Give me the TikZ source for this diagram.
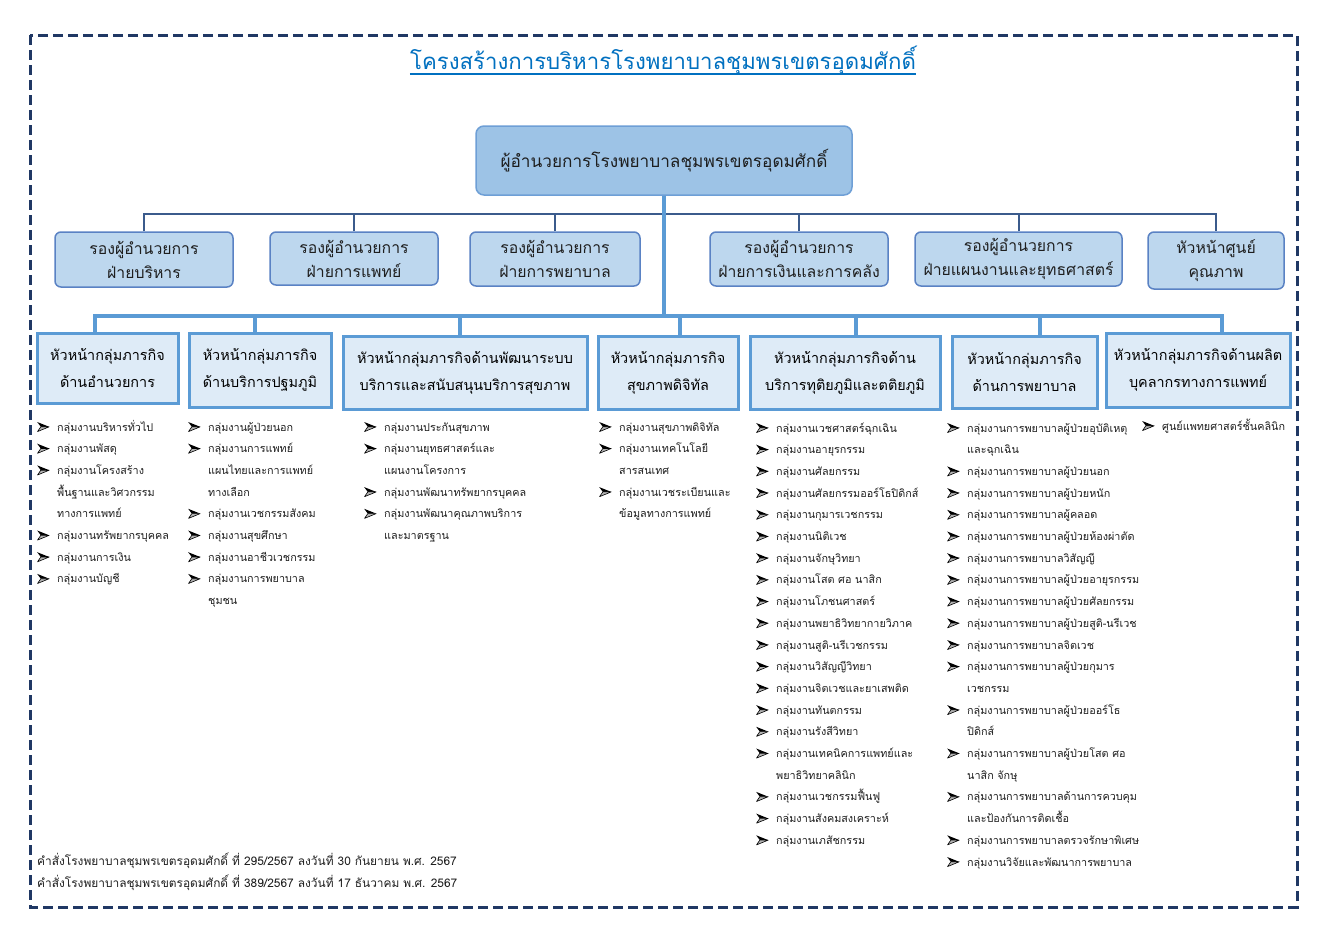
\documentclass[tikz,border=0pt]{standalone}
\usepackage{fontspec}
\setmainfont[Script=Thai]{Loma}
\usetikzlibrary{calc}
\definecolor{framec}{HTML}{203864}
\definecolor{titlec}{HTML}{0070C0}
\definecolor{topfill}{HTML}{9DC3E6}
\definecolor{topdraw}{HTML}{6E9FD6}
\definecolor{depfill}{HTML}{BDD7EE}
\definecolor{depdraw}{HTML}{5A82C4}
\definecolor{misfill}{HTML}{DEEBF7}
\definecolor{misdraw}{HTML}{5B9BD5}
\definecolor{depline}{HTML}{3B5B8C}
\definecolor{busc}{HTML}{5B9BD5}
\definecolor{txt}{HTML}{1E1E1E}
\newcommand\bul{\makebox[20pt][l]{\tikz[x=1pt,y=1pt,baseline=0pt]{\fill[black] (0,9) -- (12,4.2) -- (3.6,4.2) -- cycle; \filldraw[fill=gray!60, draw=black, line width=0.6pt, line join=round] (3.6,4.2) -- (12,4.2) -- (0.3,-0.6) -- cycle;}}}
\newcommand\cont{\hspace*{20pt}}
\tikzset{
  topbox/.style={draw=topdraw, fill=topfill, line width=1.5pt, rounded corners=8pt, inner sep=0pt, align=center, font=\fontsize{17.2}{24}\selectfont, text=txt},
  depbox/.style={draw=depdraw, fill=depfill, line width=1.5pt, rounded corners=6pt, inner sep=0pt, align=center, font=\fontsize{15.8}{24}\selectfont, text=txt},
  misbox/.style={draw=misdraw, fill=misfill, line width=3pt, inner sep=0pt, align=center, font=\fontsize{14.4}{27}\selectfont, text=black},
  deplink/.style={draw=depline, line width=2pt},
  buslink/.style={draw=busc, line width=4pt},
  listnode/.style={anchor=base west, inner sep=0pt, font=\fontsize{10.8}{21.7}\selectfont, text=txt},
  frame/.style={draw=framec, line width=3pt, dash pattern=on 10pt off 5pt}
}
\begin{document}
\begin{tikzpicture}[x=1pt,y=-1pt]
\useasboundingbox (0,0) rectangle (1325,930);
\fill[white] (0,0) rectangle (1325,930);
\draw[frame] (30,35) rectangle (1297,907);

\node[anchor=base, inner sep=0pt, text=titlec, font=\fontsize{22.2}{24}\selectfont] (title) at (663,69) {โครงสร้างการบริหารโรงพยาบาลชุมพรเขตรอุดมศักดิ์};
\draw[titlec, line width=1.5pt] ($(title.base west)+(0,5)$) -- ($(title.base east)+(0,5)$);

\node[topbox, minimum width=376pt, minimum height=69pt] (T) at (664,160.5) {ผู้อำนวยการโรงพยาบาลชุมพรเขตรอุดมศักดิ์};

\node[depbox, minimum width=178pt, minimum height=55pt] (D1) at (144,259.5) {รองผู้อำนวยการ\\ฝ่ายบริหาร};
\node[depbox, minimum width=168pt, minimum height=53pt] (D2) at (354,258.5) {รองผู้อำนวยการ\\ฝ่ายการแพทย์};
\node[depbox, minimum width=170pt, minimum height=54pt] (D3) at (555,259) {รองผู้อำนวยการ\\ฝ่ายการพยาบาล};
\node[depbox, minimum width=178pt, minimum height=54pt] (D4) at (799,259) {รองผู้อำนวยการ\\ฝ่ายการเงินและการคลัง};
\node[depbox, minimum width=207pt, minimum height=54pt] (D5) at (1018.5,259) {รองผู้อำนวยการ\\ฝ่ายแผนงานและยุทธศาสตร์};
\node[depbox, minimum width=136pt, minimum height=57pt] (D6) at (1216,260.5) {หัวหน้าศูนย์\\คุณภาพ};

\coordinate (dbus) at (0,214);
\draw[deplink] (D1.north) -- (D1.north |- dbus) -- (D6.north |- dbus) -- (D6.north);
\foreach \d in {D2,D3,D4,D5}{\draw[deplink] (\d.north) -- (\d.north |- dbus);}

\node[misbox, minimum width=141pt, minimum height=70pt] (M1) at (107.5,368) {หัวหน้ากลุ่มภารกิจ\\ด้านอำนวยการ};
\node[misbox, minimum width=142pt, minimum height=74pt] (M2) at (260,370) {หัวหน้ากลุ่มภารกิจ\\ด้านบริการปฐมภูมิ};
\node[misbox, minimum width=244pt, minimum height=73pt] (M3) at (465,372.5) {หัวหน้ากลุ่มภารกิจด้านพัฒนาระบบ\\บริการและสนับสนุนบริการสุขภาพ};
\node[misbox, minimum width=140pt, minimum height=73pt] (M4) at (668,372.5) {หัวหน้ากลุ่มภารกิจ\\สุขภาพดิจิทัล};
\node[misbox, minimum width=190pt, minimum height=73pt] (M5) at (845,372.5) {หัวหน้ากลุ่มภารกิจด้าน\\บริการทุติยภูมิและตติยภูมิ};
\node[misbox, minimum width=145pt, minimum height=72pt] (M6) at (1024.5,372) {หัวหน้ากลุ่มภารกิจ\\ด้านการพยาบาล};
\node[misbox, minimum width=184pt, minimum height=74pt] (M7) at (1198,370) {หัวหน้ากลุ่มภารกิจด้านผลิต\\บุคลากรทางการแพทย์};

\coordinate (b1) at (95,316);
\coordinate (b2) at (255,316);
\coordinate (b3) at (460,316);
\coordinate (b4) at (680,316);
\coordinate (b5) at (856,316);
\coordinate (b6) at (1040,316);
\coordinate (b7) at (1222,316);
\draw[buslink] (T.south) -- (T.south |- b1);
\draw[buslink] ([xshift=-2pt]b1) -- ([xshift=2pt]b7);
\draw[buslink] (b1) -- (b1 |- M1.north);
\draw[buslink] (b2) -- (b2 |- M2.north);
\draw[buslink] (b3) -- (b3 |- M3.north);
\draw[buslink] (b4) -- (b4 |- M4.north);
\draw[buslink] (b5) -- (b5 |- M5.north);
\draw[buslink] (b6) -- (b6 |- M6.north);
\draw[buslink] (b7) -- (b7 |- M7.north);

\node[listnode] (L1) at (37,431) {\begin{tabular}[t]{@{}l@{}}
\bul กลุ่มงานบริหารทั่วไป\\
\bul กลุ่มงานพัสดุ\\
\bul กลุ่มงานโครงสร้าง\\
\cont พื้นฐานและวิศวกรรม\\
\cont ทางการแพทย์\\
\bul กลุ่มงานทรัพยากรบุคคล\\
\bul กลุ่มงานการเงิน\\
\bul กลุ่มงานบัญชี
\end{tabular}};

\node[listnode] (L2) at (188,431) {\begin{tabular}[t]{@{}l@{}}
\bul กลุ่มงานผู้ป่วยนอก\\
\bul กลุ่มงานการแพทย์\\
\cont แผนไทยและการแพทย์\\
\cont ทางเลือก\\
\bul กลุ่มงานเวชกรรมสังคม\\
\bul กลุ่มงานสุขศึกษา\\
\bul กลุ่มงานอาชีวเวชกรรม\\
\bul กลุ่มงานการพยาบาล\\
\cont ชุมชน
\end{tabular}};

\node[listnode] (L3) at (364,431) {\begin{tabular}[t]{@{}l@{}}
\bul กลุ่มงานประกันสุขภาพ\\
\bul กลุ่มงานยุทธศาสตร์และ\\
\cont แผนงานโครงการ\\
\bul กลุ่มงานพัฒนาทรัพยากรบุคคล\\
\bul กลุ่มงานพัฒนาคุณภาพบริการ\\
\cont และมาตรฐาน
\end{tabular}};

\node[listnode] (L4) at (599,431) {\begin{tabular}[t]{@{}l@{}}
\bul กลุ่มงานสุขภาพดิจิทัล\\
\bul กลุ่มงานเทคโนโลยี\\
\cont สารสนเทศ\\
\bul กลุ่มงานเวชระเบียนและ\\
\cont ข้อมูลทางการแพทย์
\end{tabular}};

\node[listnode] (L5) at (756,432) {\begin{tabular}[t]{@{}l@{}}
\bul กลุ่มงานเวชศาสตร์ฉุกเฉิน\\
\bul กลุ่มงานอายุรกรรม\\
\bul กลุ่มงานศัลยกรรม\\
\bul กลุ่มงานศัลยกรรมออร์โธปิดิกส์\\
\bul กลุ่มงานกุมารเวชกรรม\\
\bul กลุ่มงานนิติเวช\\
\bul กลุ่มงานจักษุวิทยา\\
\bul กลุ่มงานโสต ศอ นาสิก\\
\bul กลุ่มงานโภชนศาสตร์\\
\bul กลุ่มงานพยาธิวิทยากายวิภาค\\
\bul กลุ่มงานสูติ-นรีเวชกรรม\\
\bul กลุ่มงานวิสัญญีวิทยา\\
\bul กลุ่มงานจิตเวชและยาเสพติด\\
\bul กลุ่มงานทันตกรรม\\
\bul กลุ่มงานรังสีวิทยา\\
\bul กลุ่มงานเทคนิคการแพทย์และ\\
\cont พยาธิวิทยาคลินิก\\
\bul กลุ่มงานเวชกรรมฟื้นฟู\\
\bul กลุ่มงานสังคมสงเคราะห์\\
\bul กลุ่มงานเภสัชกรรม
\end{tabular}};

\node[listnode] (L6) at (947,432) {\begin{tabular}[t]{@{}l@{}}
\bul กลุ่มงานการพยาบาลผู้ป่วยอุบัติเหตุ\\
\cont และฉุกเฉิน\\
\bul กลุ่มงานการพยาบาลผู้ป่วยนอก\\
\bul กลุ่มงานการพยาบาลผู้ป่วยหนัก\\
\bul กลุ่มงานการพยาบาลผู้คลอด\\
\bul กลุ่มงานการพยาบาลผู้ป่วยห้องผ่าตัด\\
\bul กลุ่มงานการพยาบาลวิสัญญี\\
\bul กลุ่มงานการพยาบาลผู้ป่วยอายุรกรรม\\
\bul กลุ่มงานการพยาบาลผู้ป่วยศัลยกรรม\\
\bul กลุ่มงานการพยาบาลผู้ป่วยสูติ-นรีเวช\\
\bul กลุ่มงานการพยาบาลจิตเวช\\
\bul กลุ่มงานการพยาบาลผู้ป่วยกุมาร\\
\cont เวชกรรม\\
\bul กลุ่มงานการพยาบาลผู้ป่วยออร์โธ\\
\cont ปิดิกส์\\
\bul กลุ่มงานการพยาบาลผู้ป่วยโสต ศอ\\
\cont นาสิก จักษุ\\
\bul กลุ่มงานการพยาบาลด้านการควบคุม\\
\cont และป้องกันการติดเชื้อ\\
\bul กลุ่มงานการพยาบาลตรวจรักษาพิเศษ\\
\bul กลุ่มงานวิจัยและพัฒนาการพยาบาล
\end{tabular}};

\node[listnode] (L7) at (1142,430) {\begin{tabular}[t]{@{}l@{}}
\bul ศูนย์แพทยศาสตร์ชั้นคลินิก
\end{tabular}};

\node[listnode, font=\fontsize{11.9}{22}\selectfont] (F) at (37,865) {\begin{tabular}[t]{@{}l@{}}
คำสั่งโรงพยาบาลชุมพรเขตรอุดมศักดิ์ ที่ 295/2567 ลงวันที่ 30 กันยายน พ.ศ. 2567\\
คำสั่งโรงพยาบาลชุมพรเขตรอุดมศักดิ์ ที่ 389/2567 ลงวันที่ 17 ธันวาคม พ.ศ. 2567
\end{tabular}};
\end{tikzpicture}
\end{document}
